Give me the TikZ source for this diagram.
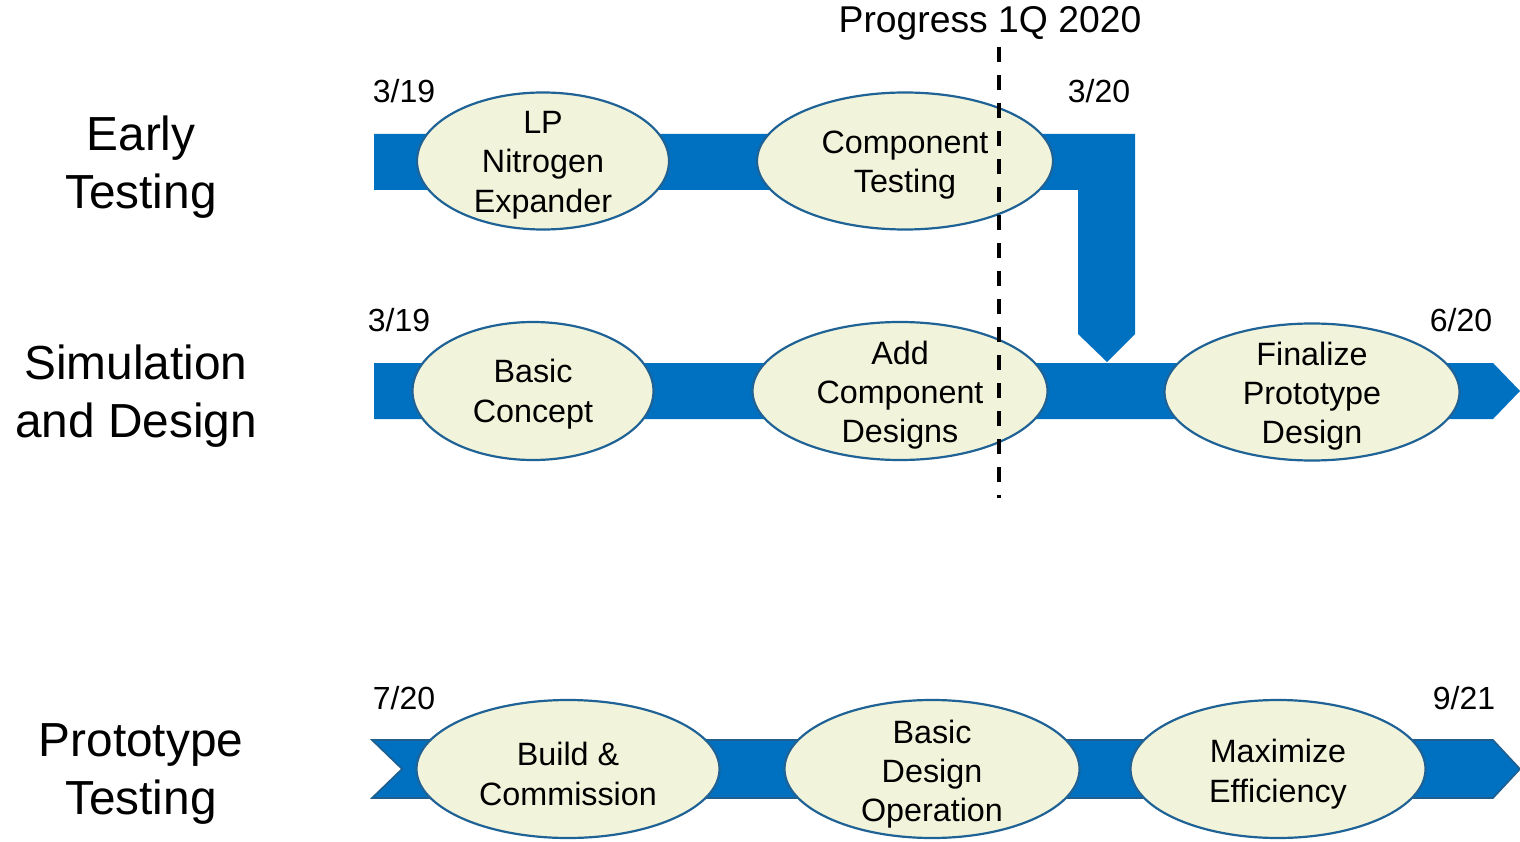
\documentclass[tikz,border=0pt]{standalone}
\usepackage{fontspec}
\setmainfont{Liberation Sans}
\usetikzlibrary{shapes.geometric}
\definecolor{barblue}{HTML}{0070C0}
\definecolor{barline}{HTML}{1F5F8F}
\definecolor{bubblefill}{HTML}{F1F4DA}
\definecolor{bubbleline}{HTML}{1F6296}
\tikzset{
  bubble/.style={ellipse, draw=bubbleline, line width=2.2pt, fill=bubblefill, inner sep=0pt},
  bubbletext/.style={align=center, inner sep=0pt, font=\fontsize{32.3}{39.3}\selectfont},
  datetext/.style={inner sep=0pt, font=\fontsize{32}{38}\selectfont},
  rowtext/.style={align=center, inner sep=0pt, font=\fontsize{47.8}{57.5}\selectfont},
  bar/.style={fill=barblue},
}
\begin{document}
\begin{tikzpicture}[x=1pt,y=-1pt]
\useasboundingbox (0,0) rectangle (1520,842);

% timeline bands
\fill[bar] (374,134) -- (1135,134) -- (1135,334) -- (1107,362) -- (1078,334)
  -- (1078,190) -- (374,190) -- cycle;
\fill[bar] (374,363) -- (1493,363) -- (1520,391) -- (1493,419) -- (374,419) -- cycle;
\filldraw[bar, draw=barline, line width=1.6pt] (372,740) -- (1493,740) -- (1520,769)
  -- (1493,798) -- (372,798) -- (402,769) -- cycle;

% row headings
\node[rowtext] (r1) at (141,167) {Early\\Testing};
\node[rowtext] (r2) at (136,396) {Simulation\\and Design};
\node[rowtext] (r3) at (141,774) {Prototype\\Testing};

% dates
\node[datetext] (d1) at (404,91) {3/19};
\node[datetext] (d2) at (1099,91) {3/20};
\node[datetext] (d3) at (399,320) {3/19};
\node[datetext] (d4) at (1461,320) {6/20};
\node[datetext] (d5) at (404,698) {7/20};
\node[datetext] (d6) at (1464,698) {9/21};

% task bubbles
\node[bubble, minimum width=252pt, minimum height=137pt] (e1) at (543,161) {};
\node[bubble, minimum width=296pt, minimum height=137pt] (e2) at (905,161) {};
\node[bubble, minimum width=241pt, minimum height=138pt] (e3) at (533,391) {};
\node[bubble, minimum width=295pt, minimum height=138pt] (e4) at (900,391) {};
\node[bubble, minimum width=295pt, minimum height=137pt] (e5) at (1312,392) {};
\node[bubble, minimum width=303pt, minimum height=138pt] (e6) at (568,769) {};
\node[bubble, minimum width=295pt, minimum height=138pt] (e7) at (932,769) {};
\node[bubble, minimum width=295pt, minimum height=138pt] (e8) at (1278,769) {};

\node[bubbletext] (t1) at (543,165) {LP\\Nitrogen\\Expander};
\node[bubbletext] (t2) at (905,165) {Component\\Testing};
\node[bubbletext] (t3) at (533,394) {Basic\\Concept};
\node[bubbletext] (t4) at (900,395) {Add\\Component\\Designs};
\node[bubbletext] (t5) at (1312,396) {Finalize\\Prototype\\Design};
\node[bubbletext] (t6) at (568,774) {Build \&\\Commission};
\node[bubbletext] (t7) at (932,774) {Basic\\Design\\Operation};
\node[bubbletext] (t8) at (1278,774) {Maximize\\Efficiency};

% progress marker
\node[inner sep=0pt, font=\fontsize{37.3}{42}\selectfont] (pg) at (990,23) {Progress 1Q 2020};
\coordinate (ptop) at (999,47);
\coordinate (pbot) at (999,498);
\draw[line width=4pt, dash pattern=on 15pt off 13pt] (ptop) -- (pbot);
\end{tikzpicture}
\end{document}
